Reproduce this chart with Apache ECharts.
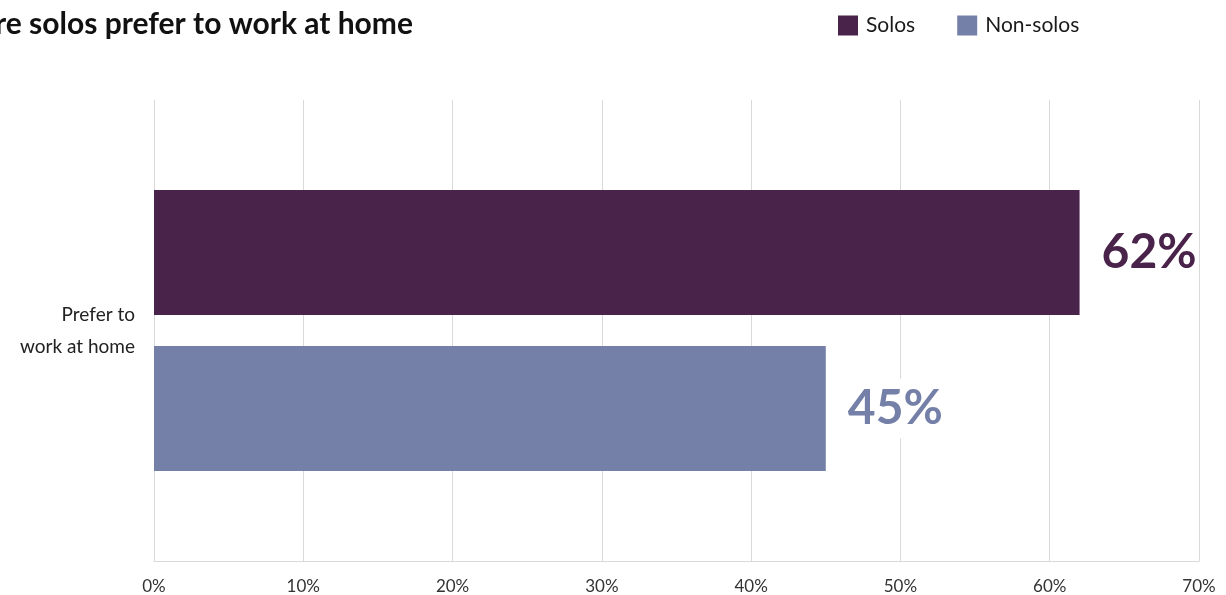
<!DOCTYPE html>
<html>
<head>
<meta charset="utf-8">
<script src="https://cdn.jsdelivr.net/npm/echarts@6/dist/echarts.min.js"></script>
<style>
  html, body { margin: 0; padding: 0; background: #fff; }
  #chart { width: 1226px; height: 595px; }
</style>
</head>
<body>
<div id="chart"></div>
<script>
// Share of respondents who prefer to work at home
const categories = ['Prefer to\nwork at home'];
const seriesNames = ['Solos', 'Non-solos'];
const solosValues = [62];
const nonSolosValues = [45];
const seriesColors = ['#4a234b', '#7580a9'];
const titleText = 'More solos prefer to work at home';

const FONT = 'Lato, "Noto Sans", sans-serif';

const chart = echarts.init(document.getElementById('chart'));

function barSeries(name, values, color) {
  return {
    name: name,
    type: 'bar',
    data: values,
    barWidth: 125,
    barGap: '24.8%',
    itemStyle: { color: color },
    label: {
      show: true,
      position: 'right',
      distance: 20,
      formatter: '{c}%',
      color: color,
      fontFamily: FONT,
      fontWeight: 'bold',
      fontSize: 48,
      backgroundColor: '#fff',
      padding: [6, 2, 6, 2]
    }
  };
}

chart.setOption({
  animation: false,
  backgroundColor: '#fff',
  graphic: [{
    type: 'text',
    x: 413,
    y: 9,
    style: {
      text: titleText,
      textAlign: 'right',
      fontFamily: FONT,
      fontWeight: 'bold',
      fontSize: 30,
      fill: '#111'
    }
  }],
  legend: {
    data: seriesNames,
    left: 833,
    top: 10,
    itemWidth: 20,
    itemHeight: 20,
    itemGap: 42,
    icon: 'rect',
    textStyle: { fontFamily: FONT, fontSize: 21, color: '#1a1a1a', padding: [0, 0, 0, 3] }
  },
  grid: { left: 154, right: 27, top: 100, bottom: 34, containLabel: false },
  xAxis: {
    type: 'value',
    min: 0,
    max: 70,
    interval: 10,
    axisLabel: {
      formatter: '{value}%',
      fontFamily: FONT,
      fontSize: 17,
      color: '#333',
      margin: 17
    },
    axisLine: { show: true, lineStyle: { color: '#d9d9d9' } },
    axisTick: { show: false },
    splitLine: { show: true, lineStyle: { color: '#d9d9d9', width: 1 } }
  },
  yAxis: {
    type: 'category',
    inverse: true,
    data: categories,
    axisLine: { show: true, lineStyle: { color: '#d9d9d9' } },
    axisTick: { show: false },
    axisLabel: {
      fontFamily: FONT,
      fontSize: 19,
      lineHeight: 32,
      color: '#222',
      align: 'right',
      margin: 19,
      padding: [8, 0, 0, 0]
    }
  },
  series: [
    barSeries(seriesNames[0], solosValues, seriesColors[0]),
    barSeries(seriesNames[1], nonSolosValues, seriesColors[1])
  ]
});
</script>
</body>
</html>
